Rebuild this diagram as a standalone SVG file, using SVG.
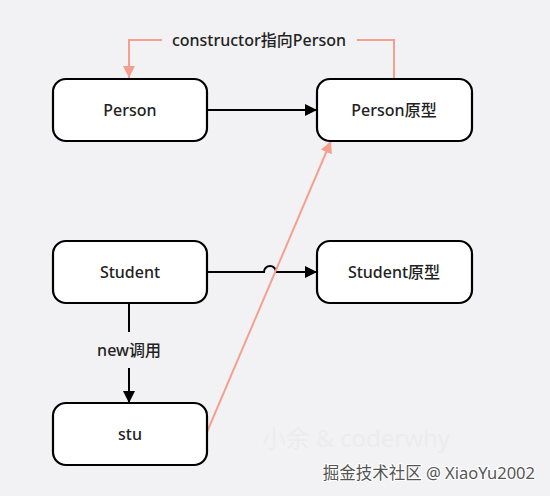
<svg xmlns="http://www.w3.org/2000/svg" width="550" height="496" viewBox="0 0 550 496">
<defs>
<style>
.node rect{fill:#ffffff;stroke:#000;stroke-width:2.2}
.node text{font-family:"Noto Sans","Noto Sans CJK SC",sans-serif;font-size:16px;font-weight:500;fill:#222;text-anchor:middle;dominant-baseline:central}
.lbl{font-family:"Noto Sans","Noto Sans CJK SC",sans-serif;font-size:16px;font-weight:500;fill:#222;text-anchor:middle;dominant-baseline:central}
.blk{stroke:#000;stroke-width:2;fill:none}
.sal{stroke:#f5a08f;stroke-width:2;fill:none}
</style>
<marker id="ab" viewBox="0 0 10 10" refX="10" refY="5" markerWidth="12" markerHeight="12" orient="auto" markerUnits="userSpaceOnUse">
<path d="M0,0 L10,5 L0,10 z" fill="#000"/>
</marker>
<marker id="as" viewBox="0 0 10 10" refX="10" refY="5" markerWidth="12" markerHeight="12" orient="auto" markerUnits="userSpaceOnUse">
<path d="M0,0 L10,5 L0,10 z" fill="#f5a08f"/>
</marker>
</defs>
<rect width="550" height="496" fill="#f2f2f4"/>
<g id="watermark">
<text x="356" y="437" font-family="Noto Sans, Noto Sans CJK SC, sans-serif" font-size="24" fill="#ececee" text-anchor="middle" dominant-baseline="central">小余 &amp; coderwhy</text>
</g>
<g id="connectors">
<path class="blk" d="M207,110 L317,110" marker-end="url(#ab)"/>
<path class="blk" d="M207,272 L264,272 A6,6 0 0 1 276,272 L317,272" marker-end="url(#ab)"/>
<path class="blk" d="M129,303 L129,332"/>
<path class="blk" d="M129,368 L129,403" marker-end="url(#ab)"/>
<text class="lbl" x="129" y="350">new调用</text>
<path class="sal" d="M207,432 L331,141" marker-end="url(#as)"/>
<path class="sal" d="M394,78 L394,40 L357,40"/>
<path class="sal" d="M162,40 L129,40 L129,78" marker-end="url(#as)"/>
<text class="lbl" x="259" y="40">constructor指向Person</text>
</g>
<g id="person" class="node"><rect x="53" y="79" width="154" height="62" rx="13"/><text x="130" y="110">Person</text></g>
<g id="person-proto" class="node"><rect x="317" y="79" width="155" height="62" rx="13"/><text x="394" y="110">Person原型</text></g>
<g id="student" class="node"><rect x="53" y="241" width="154" height="62" rx="13"/><text x="130" y="272">Student</text></g>
<g id="student-proto" class="node"><rect x="317" y="241" width="155" height="62" rx="13"/><text x="394" y="272">Student原型</text></g>
<g id="stu" class="node"><rect x="53" y="403" width="154" height="62" rx="13"/><text x="130" y="434">stu</text></g>
<g id="credit">
<text x="535" y="472" font-family="Noto Sans, Noto Sans CJK SC, sans-serif" font-size="16.5" fill="#555" stroke="#ffffff" stroke-width="2" paint-order="stroke" text-anchor="end" dominant-baseline="central">掘金技术社区 @ XiaoYu2002</text>
</g>
</svg>
